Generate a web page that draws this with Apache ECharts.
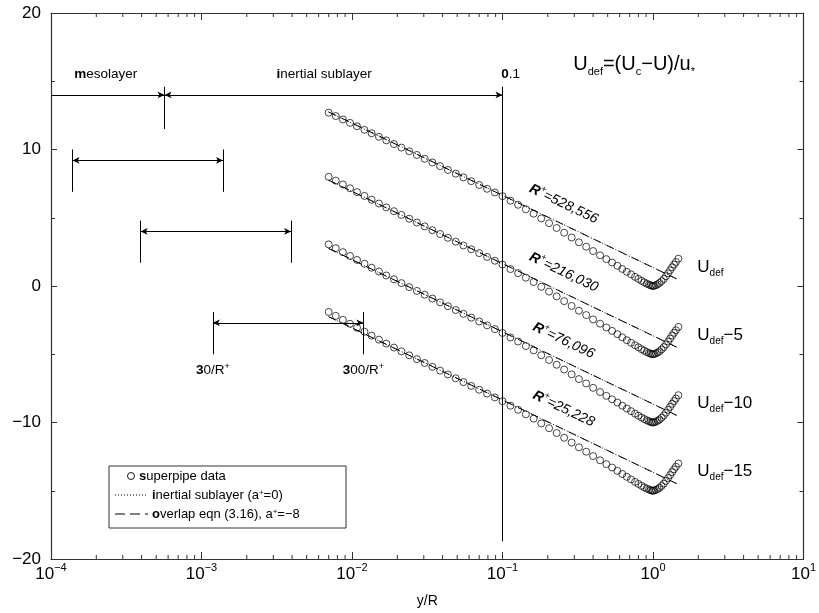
<!DOCTYPE html>
<html>
<head>
<meta charset="utf-8">
<script src="https://cdn.jsdelivr.net/npm/echarts@6/dist/echarts.min.js"></script>
<style>
html, body { margin: 0; padding: 0; background: #fff; }
#chart { width: 819px; height: 613px; }
</style>
</head>
<body>
<div id="chart"></div>
<script>
// wall distance y/R of the superpipe profiles
const yR = [0.0070, 0.0078, 0.0087, 0.0097, 0.0108, 0.0121, 0.0135, 0.0151, 0.0169, 0.0190,
  0.0213, 0.0240, 0.0270, 0.0304, 0.0342, 0.0385, 0.0434, 0.0489, 0.0550, 0.0620,
  0.0700, 0.0790, 0.0890, 0.1000, 0.113, 0.127, 0.143, 0.161, 0.181, 0.204,
  0.229, 0.257, 0.288, 0.322, 0.360, 0.400, 0.445, 0.490, 0.535, 0.580,
  0.625, 0.670, 0.715, 0.760, 0.800, 0.840, 0.875, 0.910, 0.940, 0.965,
  0.985, 1.000, 1.020, 1.045, 1.075, 1.105, 1.140, 1.180, 1.220, 1.260,
  1.300, 1.340, 1.380, 1.420, 1.475];

// velocity defect Udef (before the -5 / -10 / -15 shifts)
const udefR528556 = [12.70, 12.45, 12.20, 11.95, 11.70, 11.44, 11.19, 10.93, 10.67, 10.40,
  10.14, 9.87, 9.60, 9.32, 9.05, 8.78, 8.50, 8.23, 7.96, 7.68,
  7.40, 7.12, 6.85, 6.58, 6.25, 5.95, 5.62, 5.30, 4.95, 4.60,
  4.25, 3.90, 3.55, 3.20, 2.88, 2.56, 2.25, 1.97, 1.72, 1.48,
  1.25, 1.04, 0.85, 0.67, 0.52, 0.38, 0.27, 0.17, 0.10, 0.05,
  0.02, 0.00, 0.02, 0.06, 0.13, 0.22, 0.35, 0.52, 0.72, 0.93,
  1.15, 1.37, 1.57, 1.76, 2.00];
const udefR216030 = [13.00, 12.72, 12.44, 12.16, 11.88, 11.60, 11.32, 11.04, 10.76, 10.48,
  10.21, 9.93, 9.65, 9.37, 9.09, 8.81, 8.53, 8.25, 7.97, 7.69,
  7.41, 7.13, 6.85, 6.57, 6.24, 5.94, 5.61, 5.29, 4.94, 4.59,
  4.24, 3.89, 3.54, 3.19, 2.87, 2.55, 2.24, 1.96, 1.71, 1.47,
  1.24, 1.03, 0.84, 0.66, 0.51, 0.37, 0.26, 0.16, 0.09, 0.04,
  0.01, 0.00, 0.02, 0.06, 0.13, 0.22, 0.35, 0.52, 0.72, 0.93,
  1.15, 1.37, 1.57, 1.76, 2.00];
const udefR76096 = [13.05, 12.77, 12.48, 12.20, 11.91, 11.63, 11.34, 11.06, 10.77, 10.49,
  10.21, 9.92, 9.64, 9.36, 9.08, 8.80, 8.52, 8.24, 7.96, 7.68,
  7.40, 7.12, 6.84, 6.56, 6.23, 5.93, 5.60, 5.28, 4.93, 4.58,
  4.23, 3.88, 3.53, 3.18, 2.86, 2.54, 2.23, 1.95, 1.70, 1.46,
  1.23, 1.02, 0.83, 0.65, 0.50, 0.36, 0.25, 0.16, 0.09, 0.04,
  0.01, 0.00, 0.02, 0.06, 0.13, 0.22, 0.35, 0.52, 0.72, 0.93,
  1.15, 1.37, 1.57, 1.76, 2.00];
const udefR25228 = [13.10, 12.81, 12.52, 12.23, 11.94, 11.65, 11.36, 11.07, 10.78, 10.49,
  10.21, 9.92, 9.64, 9.36, 9.08, 8.80, 8.52, 8.24, 7.96, 7.68,
  7.40, 7.12, 6.84, 6.56, 6.23, 5.93, 5.60, 5.28, 4.93, 4.58,
  4.23, 3.88, 3.53, 3.18, 2.86, 2.54, 2.23, 1.95, 1.70, 1.46,
  1.23, 1.02, 0.83, 0.65, 0.50, 0.36, 0.25, 0.16, 0.09, 0.04,
  0.01, 0.00, 0.02, 0.06, 0.13, 0.22, 0.35, 0.52, 0.72, 0.93,
  1.15, 1.37, 1.57, 1.76, 2.00];

const profiles = [udefR528556, udefR216030, udefR76096, udefR25228];
const reLabels = ['528,556', '216,030', '76,096', '25,228'];
const shifts = [0, -5, -10, -15];
const shiftText = ['', '\u22125', '\u221210', '\u221215'];

// log law / overlap line ends (y/R, Udef)
const lawX = [0.007, 1.45];
const lawY = [12.75, 0.5];

// 30/R+ .. 300/R+ ranges: [y/R start, y/R end, Udef level]
const rangeArrows = [
  [1.39e-4, 1.39e-3, 9.2],
  [3.94e-4, 3.94e-3, 4.0],
  [1.19e-3, 1.19e-2, -2.7]
];
const bandY = 14;
const bandEdge = 5.68e-4;   // 300/R+ of the highest R+
const bandEnd = 0.1;

const font = '"Liberation Sans", Arial, Helvetica, sans-serif';
const ink = '#000';
const axisInk = '#333';

const chart = echarts.init(document.getElementById('chart'));

function minus(v) {
  return v < 0 ? '\u2212' + Math.abs(v) : String(v);
}

const series = [];
profiles.forEach((p, i) => {
  const line = lawX.map((x, j) => [x, lawY[j] + shifts[i]]);
  series.push({
    name: 'inertial sublayer', type: 'line', data: line, symbol: 'none', silent: true,
    lineStyle: { color: ink, width: 1, type: [1, 2] }, z: 3
  });
  series.push({
    name: 'overlap', type: 'line', data: line, symbol: 'none', silent: true,
    lineStyle: { color: ink, width: 1, type: [8, 6] }, z: 3
  });
  series.push({
    name: 'superpipe data', type: 'scatter', silent: true,
    data: yR.map((x, j) => [x, p[j] + shifts[i]]),
    symbol: 'circle', symbolSize: 7,
    itemStyle: { color: 'rgba(0,0,0,0)', borderColor: ink, borderWidth: 0.9 },
    z: 4
  });
});

// arrows and the vertical markers
const arrowLines = [
  [{ coord: [1e-4, bandY], symbol: 'none' }, { coord: [bandEdge, bandY], symbol: 'arrow' }],
  [{ coord: [bandEdge, bandY], symbol: 'arrow' }, { coord: [bandEnd, bandY], symbol: 'arrow' }],
  [{ coord: [bandEdge, bandY + 0.6], symbol: 'none' }, { coord: [bandEdge, bandY - 2.5], symbol: 'none' }],
  [{ coord: [bandEnd, bandY + 0.6], symbol: 'none' }, { coord: [bandEnd, -18.7], symbol: 'none' }]
];
rangeArrows.forEach(a => {
  arrowLines.push([{ coord: [a[0], a[2]], symbol: 'arrow' }, { coord: [a[1], a[2]], symbol: 'arrow' }]);
  arrowLines.push([{ coord: [a[0], a[2] + 0.8], symbol: 'none' }, { coord: [a[0], a[2] - 2.3], symbol: 'none' }]);
  arrowLines.push([{ coord: [a[1], a[2] + 0.8], symbol: 'none' }, { coord: [a[1], a[2] - 2.3], symbol: 'none' }]);
});
series.push({
  type: 'line', data: [], silent: true,
  markLine: {
    silent: true, animation: false,
    symbolSize: [5, 7],
    label: { show: false },
    lineStyle: { color: ink, width: 1, type: 'solid' },
    emphasis: { disabled: true },
    data: arrowLines
  }
});

const tickStyle = { show: true, inside: true, length: 7, lineStyle: { color: axisInk } };

chart.setOption({
  animation: false,
  backgroundColor: '#fff',
  grid: { left: 51, right: 10, top: 13, bottom: 52, containLabel: false },
  xAxis: [{
    type: 'log', logBase: 10, min: 1e-4, max: 10, position: 'bottom',
    name: 'y/R', nameLocation: 'middle', nameGap: 35,
    nameTextStyle: { fontFamily: font, fontSize: 14, color: ink },
    axisLine: { show: true, onZero: false, lineStyle: { color: axisInk, width: 1.2 } },
    axisTick: tickStyle,
    splitLine: { show: false },
    axisLabel: {
      margin: 3, color: ink, fontFamily: font,
      formatter: v => {
        const e = Math.round(Math.log10(v));
        return '{b|10}{s|' + minus(e) + '}';
      },
      rich: {
        b: { fontSize: 17, fontFamily: font, color: ink, lineHeight: 24 },
        s: { fontSize: 11, fontFamily: font, color: ink, lineHeight: 10, verticalAlign: 'top' }
      }
    }
  }, {
    type: 'log', logBase: 10, min: 1e-4, max: 10, position: 'top',
    axisLine: { show: true, onZero: false, lineStyle: { color: axisInk, width: 1.2 } },
    axisTick: tickStyle, axisLabel: { show: false }, splitLine: { show: false }
  }],
  yAxis: [{
    type: 'value', min: -20, max: 20, interval: 10,
    axisLine: { show: true, onZero: false, lineStyle: { color: axisInk, width: 1.2 } },
    axisTick: { show: true, inside: true, length: 6, lineStyle: { color: axisInk } },
    minorTick: { show: true, splitNumber: 2, length: 4, lineStyle: { color: axisInk } },
    splitLine: { show: false },
    axisLabel: { color: ink, fontFamily: font, fontSize: 17, margin: 10, formatter: v => minus(v) }
  }, {
    type: 'value', min: -20, max: 20, interval: 10, position: 'right',
    axisLine: { show: true, onZero: false, lineStyle: { color: axisInk, width: 1.2 } },
    axisTick: { show: true, inside: true, length: 6, lineStyle: { color: axisInk } },
    minorTick: { show: true, splitNumber: 2, length: 4, lineStyle: { color: axisInk } },
    splitLine: { show: false }, axisLabel: { show: false }
  }],
  series: series
});

// ---- text, minor log ticks and the legend, placed through the axes ----
const px = (x, y) => chart.convertToPixel({ xAxisIndex: 0, yAxisIndex: 0 }, [x, y]);
const g = [];
const txt = (x, y, rich, text, extra) => {
  g.push({
    type: 'text', x: x, y: y, silent: true,
    style: Object.assign({ text: text, rich: rich, fill: ink }, extra || {})
  });
};

// minor ticks on the log axes
const yBottom = px(1, -20)[1];
const yTop = px(1, 20)[1];
for (let k = -4; k < 1; k++) {
  for (let m = 2; m < 10; m++) {
    const x = px(m * Math.pow(10, k), 0)[0];
    g.push({ type: 'line', silent: true, shape: { x1: x, y1: yBottom, x2: x, y2: yBottom - 4 }, style: { stroke: axisInk, lineWidth: 1 } });
    g.push({ type: 'line', silent: true, shape: { x1: x, y1: yTop, x2: x, y2: yTop + 4 }, style: { stroke: axisInk, lineWidth: 1 } });
  }
}

const plainRich = {
  bf: { fontFamily: font, fontSize: 13.5, fontWeight: 'bold', fill: ink },
  n: { fontFamily: font, fontSize: 13.5, fill: ink }
};

let p = px(2.31e-4, 15.5);
txt(p[0], p[1], plainRich, '{bf|m}{n|esolayer}', { align: 'center', verticalAlign: 'middle' });
p = px(6.52e-3, 15.5);
txt(p[0], p[1], plainRich, '{bf|i}{n|nertial sublayer}', { align: 'center', verticalAlign: 'middle' });
p = px(0.098, 15.5);
txt(p[0], p[1], plainRich, '{bf|0}{n|.1}', { align: 'left', verticalAlign: 'middle' });

// 30/R+ and 300/R+ under the lowest range arrow
const lowArrow = rangeArrows[rangeArrows.length - 1];
const rRich = {
  bf: { fontFamily: font, fontSize: 13.5, fontWeight: 'bold', fill: ink, lineHeight: 18 },
  n: { fontFamily: font, fontSize: 13.5, fill: ink, lineHeight: 18 },
  sup: { fontFamily: font, fontSize: 9, fill: ink, verticalAlign: 'top', lineHeight: 8 }
};
p = px(lowArrow[0], -6.2);
txt(p[0], p[1], rRich, '{bf|3}{n|0/R}{sup|+}', { align: 'center', verticalAlign: 'middle' });
p = px(lowArrow[1], -6.2);
txt(p[0], p[1], rRich, '{bf|3}{n|00/R}{sup|+}', { align: 'center', verticalAlign: 'middle' });

// definition of Udef
const uRich = {
  u: { fontFamily: font, fontSize: 20, fill: ink, lineHeight: 26 },
  sub: { fontFamily: font, fontSize: 11, fill: ink, lineHeight: 8, verticalAlign: 'bottom' }
};
p = px(0.295, 16.2);
txt(p[0], p[1], uRich, '{u|U}{sub|def}{u|=(U}{sub|c}{u|\u2212U)/u}{sub|*}', { align: 'left', verticalAlign: 'middle' });

// curve names and R+ labels
const cRich = {
  u: { fontFamily: font, fontSize: 17, fill: ink, lineHeight: 22 },
  sub: { fontFamily: font, fontSize: 10, fill: ink, lineHeight: 8, verticalAlign: 'bottom' }
};
const l0 = px(lawX[0], lawY[0]);
const l1 = px(lawX[1], lawY[1]);
const angle = Math.atan2(l1[1] - l0[1], l1[0] - l0[0]);
const reRich = {
  r: { fontFamily: font, fontSize: 14, fontWeight: 'bold', fontStyle: 'italic', fill: ink, lineHeight: 18 },
  n: { fontFamily: font, fontSize: 14, fontStyle: 'italic', fill: ink, lineHeight: 18 },
  sup: { fontFamily: font, fontSize: 9, fill: ink, verticalAlign: 'top', lineHeight: 8 }
};
shifts.forEach((s, i) => {
  let q = px(1.97, 1.4 + s);
  txt(q[0], q[1], cRich, '{u|U}{sub|def}{u|' + shiftText[i] + '}', { align: 'left', verticalAlign: 'middle' });
  q = px(0.255, 6.0 + s);
  g.push({
    type: 'text', x: q[0], y: q[1], rotation: -angle, silent: true,
    style: { text: '{r|R}{sup|+}{n|=' + reLabels[i] + '}', rich: reRich, align: 'center', verticalAlign: 'middle', fill: ink }
  });
});

// legend box
const lg = { x: 109, y: 466, w: 237, h: 62 };
g.push({ type: 'rect', silent: true, shape: { x: lg.x, y: lg.y, width: lg.w, height: lg.h }, style: { fill: '#fff', stroke: axisInk, lineWidth: 1 }, z: 10 });
const legRich = {
  bf: { fontFamily: font, fontSize: 13, fontWeight: 'bold', fill: ink },
  n: { fontFamily: font, fontSize: 13, fill: ink },
  sup: { fontFamily: font, fontSize: 8, fill: ink, verticalAlign: 'top', lineHeight: 7 }
};
const rowY = [lg.y + 10, lg.y + 29, lg.y + 48];
g.push({ type: 'circle', silent: true, z: 11, shape: { cx: lg.x + 22, cy: rowY[0], r: 3.5 }, style: { fill: 'none', stroke: ink, lineWidth: 0.9 } });
g.push({ type: 'line', silent: true, z: 11, shape: { x1: lg.x + 6, y1: rowY[1], x2: lg.x + 39, y2: rowY[1] }, style: { stroke: ink, lineWidth: 1, lineDash: [1, 2] } });
g.push({ type: 'line', silent: true, z: 11, shape: { x1: lg.x + 6, y1: rowY[2], x2: lg.x + 39, y2: rowY[2] }, style: { stroke: ink, lineWidth: 1, lineDash: [10, 5] } });
const legText = [
  '{bf|s}{n|uperpipe data}',
  '{bf|i}{n|nertial sublayer (a}{sup|+}{n|=0)}',
  '{bf|o}{n|verlap eqn (3.16), a}{sup|+}{n|=\u22128}'
];
const legX = [lg.x + 30, lg.x + 43, lg.x + 43];
legText.forEach((t, i) => {
  g.push({ type: 'text', silent: true, z: 11, x: legX[i], y: rowY[i], style: { text: t, rich: legRich, verticalAlign: 'middle', align: 'left', fill: ink } });
});

chart.setOption({ graphic: g });
</script>
</body>
</html>
